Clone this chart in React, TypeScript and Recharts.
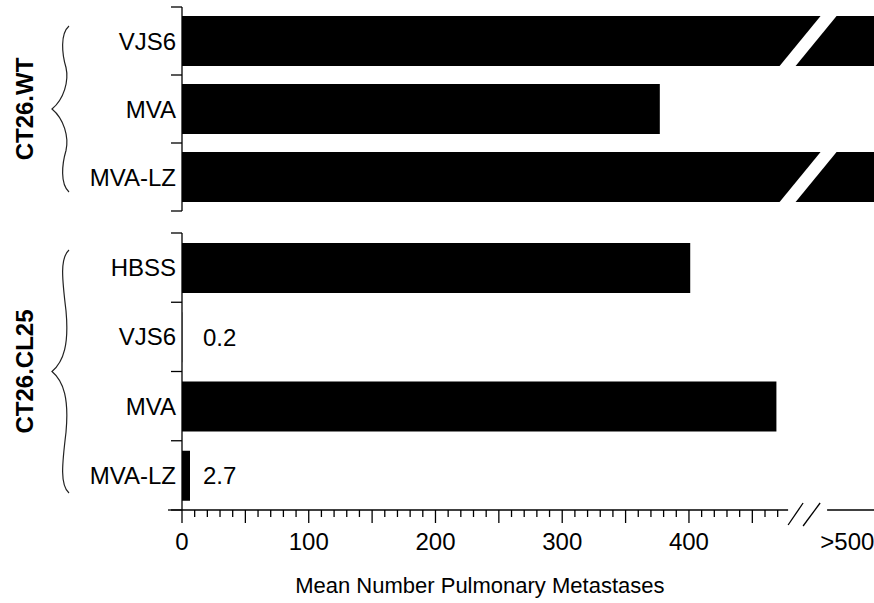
import { Bar, BarChart, LabelList, XAxis, YAxis } from 'recharts';

const INK = '#000';
const FONT = '"Liberation Sans", Arial, Helvetica, sans-serif';

// CT26.WT group
const WT_GROUPS = ['VJS6', 'MVA', 'MVA-LZ'];
const WT_VALUES = [550, 377, 550]; // 550 stands for the off-scale ">500" bars

// CT26.CL25 group
const CL25_GROUPS = ['HBSS', 'VJS6', 'MVA', 'MVA-LZ'];
const CL25_VALUES = [401, 0.2, 469, 2.7];

// x axis: minor ticks every 10 up to 470, then the break and the ">500" slot
const X_MINOR = [
  0, 10, 20, 30, 40, 50, 60, 70, 80, 90, 100, 110, 120, 130, 140, 150, 160, 170, 180, 190, 200,
  210, 220, 230, 240, 250, 260, 270, 280, 290, 300, 310, 320, 330, 340, 350, 360, 370, 380, 390,
  400, 410, 420, 430, 440, 450, 460, 470,
];
const BREAK_AT = 494;
const OVER_TICK = 525;
const OVER_LABEL = '>500';
const X_MAX = 546;
const X_TICKS = [...X_MINOR, BREAK_AT, OVER_TICK];
const LAST_MINOR = 470;

const TITLE = 'Mean Number Pulmonary Metastases';

const wtData = WT_GROUPS.map((name, i) => ({ name, value: WT_VALUES[i] }));
const cl25Data = CL25_GROUPS.map((name, i) => ({ name, value: CL25_VALUES[i] }));

/* ---- bar with the white slash for off-scale values ---------------------- */

function BrokenBar(props: any) {
  const { x, y, width, height } = props;
  const v = Array.isArray(props.value) ? props.value[1] : props.value;
  if (!(width > 0)) return null;
  const rect = <rect x={x} y={y} width={width} height={height} fill={INK} />;
  if (v <= 500) return rect;
  const cx = x + width * (BREAK_AT / v);
  const cy = y + height / 2;
  const k = 0.82; // slash lean (dx per dy)
  const half = 8;
  const yt = y - 5;
  const yb = y + height + 1;
  const at = (yy: number) => cx + (cy - yy) * k;
  const pts = [
    [at(yb) - half, yb],
    [at(yb) + half, yb],
    [at(yt) + half, yt],
    [at(yt) - half, yt],
  ]
    .map((p) => p.join(','))
    .join(' ');
  return (
    <g>
      {rect}
      <polygon points={pts} fill="#fff" />
    </g>
  );
}

function SmallValue(props: any) {
  const { x, y, height, value } = props;
  if (value >= 10) return null;
  return (
    <text x={x + 21} y={y + height / 2 + 8.5} fontSize={24} fontFamily={FONT} fill={INK}>
      {value}
    </text>
  );
}

/* ---- axes --------------------------------------------------------------- */

function YTick(props: any) {
  const { x, y, payload, index, count, band } = props;
  const half = payload?.offset > 0 ? payload.offset : band / 2;
  return (
    <g>
      <line x1={x - 11} x2={x} y1={y - half} y2={y - half} stroke={INK} strokeWidth={1.3} />
      {index === count - 1 && (
        <line x1={x - 11} x2={x} y1={y + half} y2={y + half} stroke={INK} strokeWidth={1.3} />
      )}
      <text x={x - 6} y={y + 8.5} textAnchor="end" fontSize={24} fontFamily={FONT} fill={INK}>
        {payload.value}
      </text>
    </g>
  );
}

function XTick(props: any) {
  const { x, y, payload } = props;
  const v = payload.value;
  if (v === OVER_TICK) {
    return (
      <text x={x} y={y + 40} textAnchor="middle" fontSize={24} fontFamily={FONT} fill={INK}>
        {OVER_LABEL}
      </text>
    );
  }
  if (v === BREAK_AT) {
    return (
      <g stroke={INK} strokeWidth={1.3}>
        <rect x={x - 20} y={y - 3} width={39} height={6} fill="#fff" stroke="none" />
        <line x1={x - 20} y1={y + 15} x2={x - 5} y2={y - 7} />
        <line x1={x - 5} y1={y + 16} x2={x + 12} y2={y - 7} />
      </g>
    );
  }
  const len = v % 50 === 0 ? 13 : 7;
  return (
    <g>
      {v === 0 && <line x1={x - 14} x2={x} y1={y} y2={y} stroke={INK} strokeWidth={1.3} />}
      <line x1={x} x2={x} y1={y} y2={y + len} stroke={INK} strokeWidth={1.3} />
      {v % 100 === 0 && (
        <text x={x} y={y + 40} textAnchor="middle" fontSize={24} fontFamily={FONT} fill={INK}>
          {v}
        </text>
      )}
    </g>
  );
}

function AxisTitle(props: any) {
  const { viewBox } = props;
  // centred under the labelled stretch of the axis (0 .. 470)
  const cx = viewBox.x + (viewBox.width * (LAST_MINOR / 2)) / X_MAX;
  return (
    <text x={cx} y={viewBox.y + 83} textAnchor="middle" fontSize={22} fontFamily={FONT} fill={INK}>
      {TITLE}
    </text>
  );
}

/* ---- group label + curly brace left of each block ----------------------- */

function GroupMark(props: any) {
  const { viewBox, value, inset } = props;
  const { y, height } = viewBox;
  const cy = y + height / 2;
  const y0 = y + inset;
  const y1 = y + height - inset;
  const q0 = (y0 + cy) / 2;
  const q1 = (cy + y1) / 2;
  const d = [
    `M 69 ${y0}`,
    `C 60 ${y0 + 8} 62 ${y0 + 28} 66 ${q0}`,
    `C 69 ${cy - 28} 64 ${cy - 10} 52 ${cy}`,
    `C 64 ${cy + 10} 69 ${cy + 28} 66 ${q1}`,
    `C 62 ${y1 - 28} 60 ${y1 - 8} 69 ${y1}`,
  ].join(' ');
  return (
    <g>
      <text
        x={33}
        y={cy}
        transform={`rotate(-90 33 ${cy})`}
        textAnchor="middle"
        fontSize={24}
        fontWeight="bold"
        fontFamily={FONT}
        fill={INK}
      >
        {value}
      </text>
      <path d={d} fill="none" stroke="#222" strokeWidth={1.2} />
    </g>
  );
}

const minSize = (v: any) => (Number(v) >= 1 ? 8 : 0);

export default function App() {
  const topH = 220;
  const topMargin = { top: 7, right: 0, bottom: 9, left: 0 };
  const botH = 383;
  const botMargin = { top: 13, right: 0, bottom: 0, left: 0 };
  const xAxisH = 93;
  const topBand = (topH - topMargin.top - topMargin.bottom) / WT_GROUPS.length;
  const botBand = (botH - botMargin.top - xAxisH) / CL25_GROUPS.length;

  return (
    <div
      style={{
        position: 'absolute',
        left: 0,
        top: 0,
        width: 874,
        height: 603,
        background: '#fff',
        overflow: 'hidden',
      }}
    >
      <BarChart width={874} height={topH} data={wtData} layout="vertical" margin={topMargin}>
        <XAxis type="number" domain={[0, X_MAX]} allowDataOverflow hide />
        <YAxis
          type="category"
          dataKey="name"
          width={182}
          interval={0}
          tickSize={0}
          tickMargin={0}
          tickLine={false}
          axisLine={{ stroke: INK, strokeWidth: 1.3 }}
          tick={(p: any) => <YTick {...p} count={WT_GROUPS.length} band={topBand} />}
          label={{ value: 'CT26.WT', content: (p: any) => <GroupMark {...p} value="CT26.WT" inset={19} /> }}
        />
        <Bar dataKey="value" barSize={50} shape={BrokenBar} isAnimationActive={false} />
      </BarChart>
      <BarChart width={874} height={botH} data={cl25Data} layout="vertical" margin={botMargin}>
        <XAxis
          type="number"
          domain={[0, X_MAX]}
          allowDataOverflow
          ticks={X_TICKS}
          interval={0}
          tickSize={0}
          tickMargin={0}
          tickLine={false}
          height={xAxisH}
          axisLine={{ stroke: INK, strokeWidth: 1.3 }}
          tick={(p: any) => <XTick {...p} />}
          label={{ value: TITLE, content: (p: any) => <AxisTitle {...p} /> }}
        />
        <YAxis
          type="category"
          dataKey="name"
          width={182}
          interval={0}
          tickSize={0}
          tickMargin={0}
          tickLine={false}
          axisLine={{ stroke: INK, strokeWidth: 1.3 }}
          tick={(p: any) => <YTick {...p} count={CL25_GROUPS.length} band={botBand} />}
          label={{
            value: 'CT26.CL25',
            content: (p: any) => <GroupMark {...p} value="CT26.CL25" inset={17} />,
          }}
        />
        <Bar
          dataKey="value"
          barSize={50}
          minPointSize={minSize}
          shape={BrokenBar}
          isAnimationActive={false}
        >
          <LabelList dataKey="value" content={SmallValue} />
        </Bar>
      </BarChart>
    </div>
  );
}
